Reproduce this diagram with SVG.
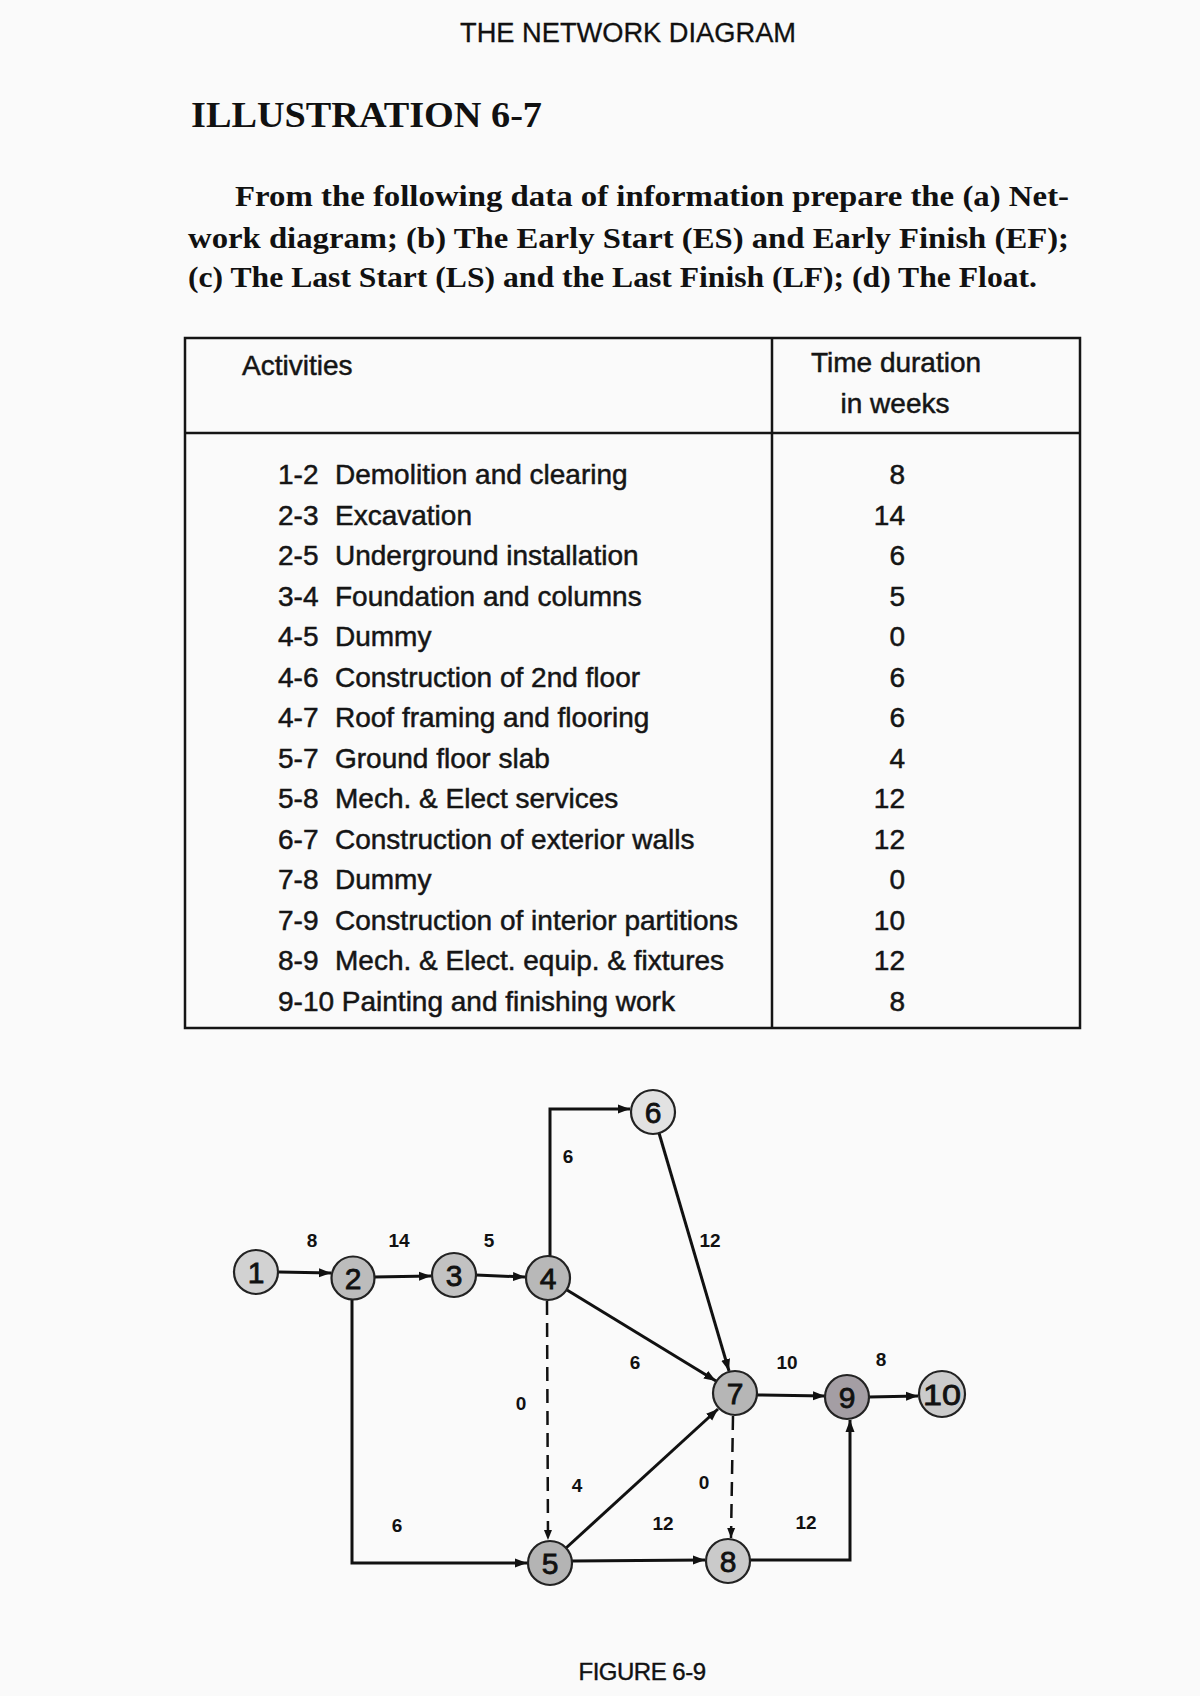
<svg xmlns="http://www.w3.org/2000/svg" width="1200" height="1696" viewBox="0 0 1200 1696">
<defs>
<style>
.hdr{font-family:"Liberation Sans",Arial,sans-serif;font-size:27px;fill:#111;stroke:#111;stroke-width:0.3}
.ttl{font-family:"Liberation Serif","Times New Roman",serif;font-weight:bold;fill:#111}
.tb{font-family:"Liberation Sans",Arial,sans-serif;font-size:28px;fill:#151515;stroke:#151515;stroke-width:0.5}
.tl{stroke:#151515;stroke-width:2.5;fill:none}
.edge{stroke:#111;stroke-width:3;fill:none;marker-end:url(#arr)}
.dash{stroke:#111;stroke-width:2.5;fill:none;stroke-dasharray:14 8;marker-end:url(#arrs)}
.el{font-family:"Liberation Sans",Arial,sans-serif;font-weight:bold;font-size:19px;fill:#111;text-anchor:middle}
.nc{stroke:#222;stroke-width:2.2}
.nt{font-family:"Liberation Sans",Arial,sans-serif;font-size:30px;fill:#111;stroke:#111;stroke-width:0.8;text-anchor:middle}
.cap{font-family:"Liberation Sans",Arial,sans-serif;font-size:24px;fill:#111;stroke:#111;stroke-width:0.4;text-anchor:middle;letter-spacing:-0.5px}
</style>
<marker id="arr" markerUnits="userSpaceOnUse" markerWidth="13" markerHeight="10" refX="12" refY="5" orient="auto">
<path d="M0,0.5 L12,5 L0,9.5 z" fill="#111"/>
</marker>
<marker id="arrs" markerUnits="userSpaceOnUse" markerWidth="11" markerHeight="9" refX="10" refY="4.5" orient="auto">
<path d="M0,0.5 L10,4.5 L0,8.5 z" fill="#111"/>
</marker>
</defs>
<rect width="1200" height="1696" fill="#fafafa"/>

<text class="hdr" x="628" y="42" text-anchor="middle" textLength="336" lengthAdjust="spacingAndGlyphs">THE NETWORK DIAGRAM</text>
<text class="ttl" x="191" y="127" font-size="36" textLength="351" lengthAdjust="spacingAndGlyphs">ILLUSTRATION  6-7</text>
<text class="ttl" font-size="30" x="235" y="206" textLength="834" lengthAdjust="spacingAndGlyphs">From the following data of information prepare the (a) Net-</text>
<text class="ttl" font-size="30" x="188" y="248" textLength="881" lengthAdjust="spacingAndGlyphs">work diagram; (b) The Early Start (ES) and Early Finish (EF);</text>
<text class="ttl" font-size="30" x="188" y="287" textLength="849" lengthAdjust="spacingAndGlyphs">(c) The Last Start (LS) and the Last Finish (LF); (d) The Float.</text>

<g id="table">
<rect class="tl" x="185" y="338" width="895" height="690"/>
<line class="tl" x1="185" y1="433" x2="1080" y2="433"/>
<line class="tl" x1="772" y1="338" x2="772" y2="1028"/>
<text class="tb" x="242" y="375">Activities</text>
<text class="tb" x="896" y="372" text-anchor="middle">Time duration</text>
<text class="tb" x="895" y="413" text-anchor="middle">in weeks</text>
<g class="tb">
<text x="278" y="484">1-2<tspan x="335">Demolition and clearing</tspan></text>
<text x="278" y="524.5">2-3<tspan x="335">Excavation</tspan></text>
<text x="278" y="565">2-5<tspan x="335">Underground installation</tspan></text>
<text x="278" y="605.5">3-4<tspan x="335">Foundation and columns</tspan></text>
<text x="278" y="646">4-5<tspan x="335">Dummy</tspan></text>
<text x="278" y="686.5">4-6<tspan x="335">Construction of 2nd floor</tspan></text>
<text x="278" y="727">4-7<tspan x="335">Roof framing and flooring</tspan></text>
<text x="278" y="767.5">5-7<tspan x="335">Ground floor slab</tspan></text>
<text x="278" y="808">5-8<tspan x="335">Mech. &amp; Elect services</tspan></text>
<text x="278" y="848.5">6-7<tspan x="335">Construction of exterior walls</tspan></text>
<text x="278" y="889">7-8<tspan x="335">Dummy</tspan></text>
<text x="278" y="929.5">7-9<tspan x="335">Construction of interior partitions</tspan></text>
<text x="278" y="970">8-9<tspan x="335">Mech. &amp; Elect. equip. &amp; fixtures</tspan></text>
<text x="278" y="1010.5">9-10 Painting and finishing work</text>
</g>
<g class="tb" text-anchor="end">
<text x="905" y="484">8</text>
<text x="905" y="524.5">14</text>
<text x="905" y="565">6</text>
<text x="905" y="605.5">5</text>
<text x="905" y="646">0</text>
<text x="905" y="686.5">6</text>
<text x="905" y="727">6</text>
<text x="905" y="767.5">4</text>
<text x="905" y="808">12</text>
<text x="905" y="848.5">12</text>
<text x="905" y="889">0</text>
<text x="905" y="929.5">10</text>
<text x="905" y="970">12</text>
<text x="905" y="1010.5">8</text>
</g>
</g>

<g id="connectors">
<line class="edge" x1="279" y1="1272" x2="331" y2="1273"/>
<line class="edge" x1="374" y1="1277" x2="431" y2="1276"/>
<line class="edge" x1="476" y1="1275" x2="525" y2="1277"/>
<polyline class="edge" points="550,1256 550,1109 630,1109"/>
<line class="edge" x1="659" y1="1133" x2="729" y2="1371"/>
<line class="edge" x1="567" y1="1290" x2="716" y2="1381"/>
<line class="edge" x1="757" y1="1395" x2="825" y2="1396"/>
<line class="edge" x1="869" y1="1397" x2="918" y2="1396"/>
<polyline class="edge" points="352,1300 352,1563 527,1563"/>
<line class="dash" x1="547" y1="1301" x2="548" y2="1540"/>
<line class="edge" x1="566" y1="1548" x2="718" y2="1409"/>
<line class="edge" x1="572" y1="1561" x2="705" y2="1560"/>
<line class="dash" x1="733" y1="1416" x2="731" y2="1538"/>
<polyline class="edge" points="750,1560 850,1560 850,1420"/>
</g>

<g id="edge-labels">
<text class="el" x="312" y="1247">8</text>
<text class="el" x="399" y="1247">14</text>
<text class="el" x="489" y="1247">5</text>
<text class="el" x="568" y="1163" font-size="23">6</text>
<text class="el" x="710" y="1247">12</text>
<text class="el" x="635" y="1369">6</text>
<text class="el" x="521" y="1410">0</text>
<text class="el" x="787" y="1369">10</text>
<text class="el" x="881" y="1366">8</text>
<text class="el" x="577" y="1492">4</text>
<text class="el" x="704" y="1489">0</text>
<text class="el" x="397" y="1532">6</text>
<text class="el" x="663" y="1530">12</text>
<text class="el" x="806" y="1529">12</text>
</g>

<g id="node1"><circle class="nc" cx="256" cy="1272" r="22" fill="#d2d2d2"/><text class="nt" x="256" y="1283">1</text></g>
<g id="node2"><circle class="nc" cx="353" cy="1278" r="21.5" fill="#bcbcbc"/><text class="nt" x="353" y="1289">2</text></g>
<g id="node3"><circle class="nc" cx="454" cy="1275" r="22" fill="#c2c2c2"/><text class="nt" x="454" y="1286">3</text></g>
<g id="node4"><circle class="nc" cx="548" cy="1278" r="22" fill="#b8b8b8"/><text class="nt" x="548" y="1289">4</text></g>
<g id="node5"><circle class="nc" cx="550" cy="1563" r="22" fill="#b4b4b4"/><text class="nt" x="550" y="1574">5</text></g>
<g id="node6"><circle class="nc" cx="653" cy="1112" r="22" fill="#e2e2e2"/><text class="nt" x="653" y="1123">6</text></g>
<g id="node7"><circle class="nc" cx="735" cy="1393" r="22" fill="#b6b6b6"/><text class="nt" x="735" y="1404">7</text></g>
<g id="node8"><circle class="nc" cx="728" cy="1561" r="22" fill="#cacaca"/><text class="nt" x="728" y="1572">8</text></g>
<g id="node9"><circle class="nc" cx="847" cy="1397" r="22" fill="#a49ea4"/><text class="nt" x="847" y="1408">9</text></g>
<g id="node10"><circle class="nc" cx="942" cy="1394" r="23" fill="#cbcbcb"/><text class="nt" x="942" y="1405" textLength="38" lengthAdjust="spacingAndGlyphs">10</text></g>

<text class="cap" x="642" y="1680">FIGURE 6-9</text>
</svg>
